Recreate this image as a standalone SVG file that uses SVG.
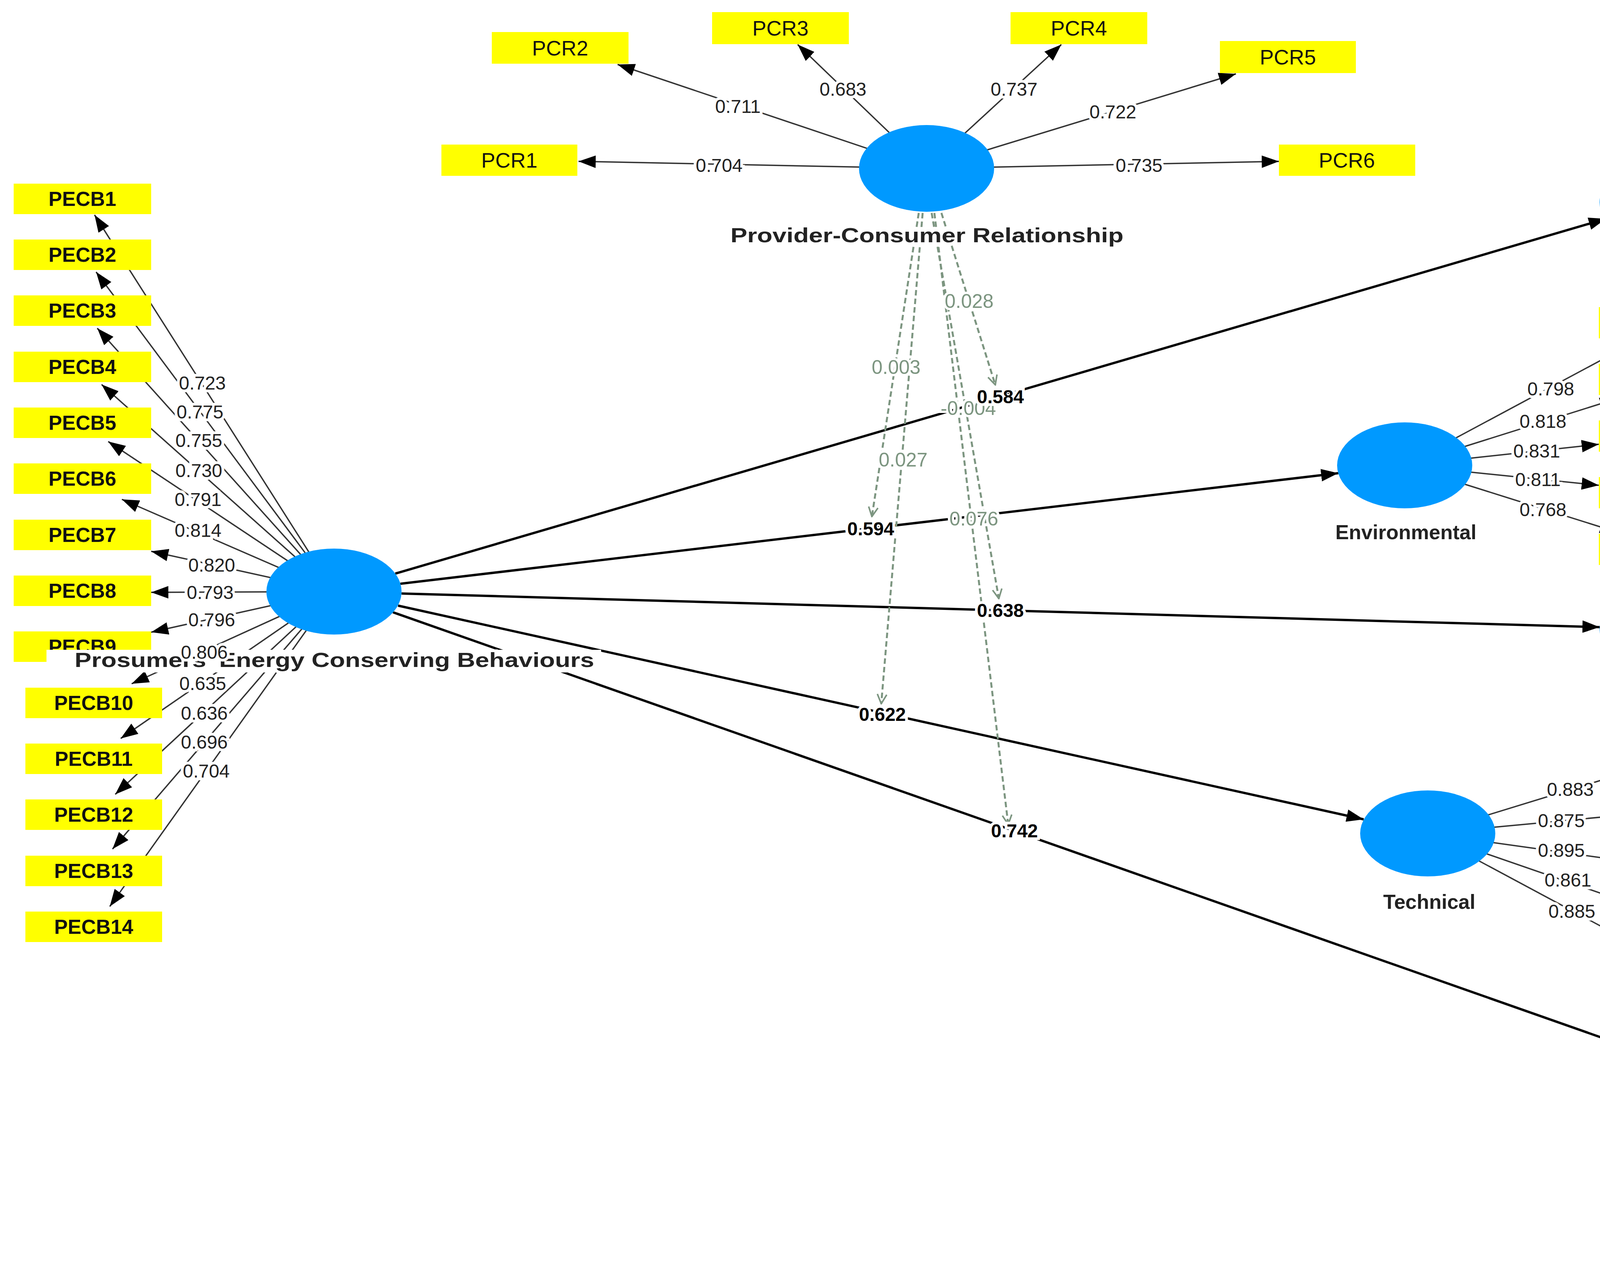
<svg xmlns="http://www.w3.org/2000/svg" width="5199" height="3235" viewBox="0 0 5199 3235">
<style>
.box{fill:#ffff00}
.lv{fill:#0099ff}
.bt{font-family:"Liberation Sans",Arial,sans-serif;font-weight:bold;font-size:52px;fill:#111;text-anchor:middle}
.pt{font-family:"Liberation Sans",Arial,sans-serif;font-size:54px;fill:#111;text-anchor:middle}
.nl{font-family:"Liberation Sans",Arial,sans-serif;font-weight:bold;font-size:52px;fill:#222;text-anchor:middle;paint-order:stroke;stroke:#fff;stroke-width:14px}
.ld{stroke:#333;stroke-width:3.5;fill:none}
.pa{stroke:#000;stroke-width:6;fill:none}
.md{stroke:#7c9580;stroke-width:5;stroke-dasharray:14 8;fill:none}
.lt{font-family:"Liberation Sans",Arial,sans-serif;font-size:48px;fill:#222;text-anchor:middle;dominant-baseline:central;paint-order:stroke;stroke:#fff;stroke-width:14px}
.pl{font-family:"Liberation Sans",Arial,sans-serif;font-weight:bold;font-size:48px;fill:#000;text-anchor:middle;dominant-baseline:central;paint-order:stroke;stroke:#fff;stroke-width:14px}
.ml{font-family:"Liberation Sans",Arial,sans-serif;font-size:50px;fill:#7c9580;text-anchor:middle;dominant-baseline:central;paint-order:stroke;stroke:#fff;stroke-width:12px}
</style>
<defs>
<marker id="a" markerUnits="userSpaceOnUse" markerWidth="44" markerHeight="32" refX="44" refY="16" orient="auto"><path d="M0,0 L44,16 L0,32 z" fill="#000"/></marker>
<marker id="o" markerUnits="userSpaceOnUse" markerWidth="30" markerHeight="30" refX="28" refY="15" orient="auto"><path d="M4,3 L28,15 L4,27" fill="none" stroke="#7c9580" stroke-width="4"/></marker>
</defs>
<rect width="5199" height="3235" fill="#fff"/>
<g id="connectors">
<!-- PECB loadings -->
<g class="ld" marker-end="url(#a)">
<line x1="855" y1="1514" x2="242" y2="550"/>
<line x1="855" y1="1514" x2="246" y2="696"/>
<line x1="855" y1="1514" x2="249" y2="840"/>
<line x1="855" y1="1514" x2="260" y2="984"/>
<line x1="855" y1="1514" x2="277" y2="1130"/>
<line x1="855" y1="1514" x2="312" y2="1278"/>
<line x1="855" y1="1514" x2="387" y2="1411"/>
<line x1="855" y1="1514" x2="387" y2="1516"/>
<line x1="855" y1="1514" x2="387" y2="1618"/>
<line x1="855" y1="1514" x2="337" y2="1750"/>
<line x1="855" y1="1514" x2="309" y2="1890"/>
<line x1="855" y1="1514" x2="295" y2="2033"/>
<line x1="855" y1="1514" x2="288" y2="2173"/>
<line x1="855" y1="1514" x2="281" y2="2320"/>
<!-- PCR -->
<line x1="2372" y1="431" x2="1481" y2="413"/>
<line x1="2372" y1="431" x2="1581" y2="165"/>
<line x1="2372" y1="431" x2="2042" y2="114"/>
<line x1="2372" y1="431" x2="2717" y2="114"/>
<line x1="2372" y1="431" x2="3164" y2="189"/>
<line x1="2372" y1="431" x2="3274" y2="413"/>
<!-- EC -->
<line x1="4268" y1="518" x2="4877" y2="131"/>
<line x1="4268" y1="518" x2="4823" y2="277"/>
<line x1="4268" y1="518" x2="4764" y2="412"/>
<line x1="4268" y1="518" x2="4764" y2="519"/>
<line x1="4268" y1="518" x2="4764" y2="625"/>
<line x1="4268" y1="518" x2="4844" y2="762"/>
<line x1="4268" y1="518" x2="4877" y2="906"/>
<!-- EN -->
<line x1="3596" y1="1191" x2="4190" y2="873"/>
<line x1="3596" y1="1191" x2="4140" y2="1020"/>
<line x1="3596" y1="1191" x2="4093" y2="1137"/>
<line x1="3596" y1="1191" x2="4093" y2="1242"/>
<line x1="3596" y1="1191" x2="4140" y2="1362"/>
<!-- G -->
<line x1="4268" y1="1610" x2="4848" y2="1298"/>
<line x1="4268" y1="1610" x2="4794" y2="1438"/>
<line x1="4268" y1="1610" x2="4764" y2="1555"/>
<line x1="4268" y1="1610" x2="4764" y2="1662"/>
<line x1="4268" y1="1610" x2="4811" y2="1781"/>
<line x1="4268" y1="1610" x2="4860" y2="1924"/>
<!-- TL -->
<line x1="3655" y1="2133" x2="4206" y2="1964"/>
<line x1="3655" y1="2133" x2="4156" y2="2086"/>
<line x1="3655" y1="2133" x2="4156" y2="2203"/>
<line x1="3655" y1="2133" x2="4190" y2="2318"/>
<line x1="3655" y1="2133" x2="4256" y2="2455"/>
<!-- SO -->
<line x1="4332" y1="2737" x2="4942" y2="2348"/>
<line x1="4332" y1="2737" x2="4899" y2="2494"/>
<line x1="4332" y1="2737" x2="4830" y2="2640"/>
<line x1="4332" y1="2737" x2="4830" y2="2740"/>
<line x1="4332" y1="2737" x2="4830" y2="2843"/>
<line x1="4332" y1="2737" x2="4909" y2="2985"/>
<line x1="4332" y1="2737" x2="4942" y2="3125"/>
</g>
<!-- structural paths -->
<g class="pa" marker-end="url(#a)">
<line x1="1012" y1="1468" x2="4111" y2="560"/>
<line x1="1025" y1="1494" x2="3426" y2="1211"/>
<line x1="1028" y1="1519" x2="4095" y2="1605"/>
<line x1="1019" y1="1550" x2="3491" y2="2097"/>
<line x1="1006" y1="1567" x2="4181" y2="2684"/>
</g>
<!-- moderating dashed -->
<g class="md" marker-end="url(#o)">
<line x1="2352" y1="545" x2="2232" y2="1322"/>
<line x1="2362" y1="545" x2="2256" y2="1801"/>
<line x1="2385" y1="545" x2="2557" y2="1532"/>
<line x1="2392" y1="545" x2="2581" y2="2110"/>
<line x1="2410" y1="545" x2="2548" y2="985"/>
</g>
<!-- labels -->
<g>
<text class="lt" x="518" y="980">0.723</text>
<text class="lt" x="512" y="1054">0.775</text>
<text class="lt" x="509" y="1127">0.755</text>
<text class="lt" x="509" y="1204">0.730</text>
<text class="lt" x="507" y="1278">0.791</text>
<text class="lt" x="507" y="1357">0.814</text>
<text class="lt" x="542" y="1446">0.820</text>
<text class="lt" x="538" y="1516">0.793</text>
<text class="lt" x="542" y="1586">0.796</text>
<text class="lt" x="519" y="1749">0.635</text>
<text class="lt" x="523" y="1825">0.636</text>
<text class="lt" x="523" y="1899">0.696</text>
<text class="lt" x="528" y="1973">0.704</text>
<text class="lt" x="1841" y="423">0.704</text>
<text class="lt" x="1889" y="272">0.711</text>
<text class="lt" x="2158" y="228">0.683</text>
<text class="lt" x="2596" y="228">0.737</text>
<text class="lt" x="2849" y="286">0.722</text>
<text class="lt" x="2916" y="423">0.735</text>
<text class="lt" x="4637" y="285">0.904</text>
<text class="lt" x="4632" y="363">0.845</text>
<text class="lt" x="4602" y="447">0.750</text>
<text class="lt" x="4606" y="519">0.901</text>
<text class="lt" x="4602" y="591">0.868</text>
<text class="lt" x="4632" y="673">0.858</text>
<text class="lt" x="4637" y="754">0.742</text>
<text class="lt" x="3970" y="995">0.798</text>
<text class="lt" x="3950" y="1078">0.818</text>
<text class="lt" x="3934" y="1154">0.831</text>
<text class="lt" x="3937" y="1227">0.811</text>
<text class="lt" x="3950" y="1304">0.768</text>
<text class="lt" x="4637" y="1415">0.795</text>
<text class="lt" x="4620" y="1499">0.821</text>
<text class="lt" x="4608" y="1575">0.848</text>
<text class="lt" x="4608" y="1647">0.774</text>
<text class="lt" x="4620" y="1725">0.811</text>
<text class="lt" x="4637" y="1808">0.850</text>
<text class="lt" x="4020" y="2020">0.883</text>
<text class="lt" x="3997" y="2100">0.875</text>
<text class="lt" x="3997" y="2176">0.895</text>
<text class="lt" x="4014" y="2252">0.861</text>
<text class="lt" x="4024" y="2332">0.885</text>
<text class="lt" x="4704" y="2501">0.798</text>
<text class="lt" x="4697" y="2584">0.830</text>
<text class="lt" x="4667" y="2667">0.650</text>
<text class="lt" x="4667" y="2740">0.825</text>
<text class="lt" x="4667" y="2810">0.814</text>
<text class="lt" x="4697" y="2896">0.828</text>
<text class="lt" x="4704" y="2972">0.825</text>
<text class="ml" x="2481" y="771">0.028</text>
<text class="ml" x="2294" y="940">0.003</text>
<text class="ml" x="2479" y="1045">-0.004</text>
<text class="ml" x="2312" y="1177">0.027</text>
<text class="ml" x="2493" y="1328">0.076</text>
<text class="pl" x="2561" y="1015">0.584</text>
<text class="pl" x="2229" y="1353">0.594</text>
<text class="pl" x="2561" y="1562">0.638</text>
<text class="pl" x="2259" y="1828">0.622</text>
<text class="pl" x="2597" y="2126">0.742</text>
</g>
</g>
<!-- indicator nodes -->
<g id="PECB1"><rect class="box" x="35" y="470" width="352" height="78"/><text class="bt" x="211" y="527">PECB1</text></g>
<g id="PECB2"><rect class="box" x="35" y="613" width="352" height="78"/><text class="bt" x="211" y="670">PECB2</text></g>
<g id="PECB3"><rect class="box" x="35" y="756" width="352" height="78"/><text class="bt" x="211" y="813">PECB3</text></g>
<g id="PECB4"><rect class="box" x="35" y="900" width="352" height="78"/><text class="bt" x="211" y="957">PECB4</text></g>
<g id="PECB5"><rect class="box" x="35" y="1043" width="352" height="78"/><text class="bt" x="211" y="1100">PECB5</text></g>
<g id="PECB6"><rect class="box" x="35" y="1186" width="352" height="78"/><text class="bt" x="211" y="1243">PECB6</text></g>
<g id="PECB7"><rect class="box" x="35" y="1330" width="352" height="78"/><text class="bt" x="211" y="1387">PECB7</text></g>
<g id="PECB8"><rect class="box" x="35" y="1473" width="352" height="78"/><text class="bt" x="211" y="1530">PECB8</text></g>
<g id="PECB9"><rect class="box" x="35" y="1616" width="352" height="78"/><text class="bt" x="211" y="1673">PECB9</text></g>
<g id="PECB10"><rect class="box" x="65" y="1760" width="350" height="78"/><text class="bt" x="240" y="1817">PECB10</text></g>
<g id="PECB11"><rect class="box" x="65" y="1903" width="350" height="78"/><text class="bt" x="240" y="1960">PECB11</text></g>
<g id="PECB12"><rect class="box" x="65" y="2046" width="350" height="78"/><text class="bt" x="240" y="2103">PECB12</text></g>
<g id="PECB13"><rect class="box" x="65" y="2190" width="350" height="78"/><text class="bt" x="240" y="2247">PECB13</text></g>
<g id="PECB14"><rect class="box" x="65" y="2333" width="350" height="78"/><text class="bt" x="240" y="2390">PECB14</text></g>
<g id="PCR1"><rect class="box" x="1130" y="370" width="348" height="80"/><text class="pt" x="1304" y="429">PCR1</text></g>
<g id="PCR2"><rect class="box" x="1259" y="82" width="350" height="81"/><text class="pt" x="1434" y="142">PCR2</text></g>
<g id="PCR3"><rect class="box" x="1823" y="31" width="350" height="82"/><text class="pt" x="1998" y="91">PCR3</text></g>
<g id="PCR4"><rect class="box" x="2587" y="31" width="350" height="82"/><text class="pt" x="2762" y="91">PCR4</text></g>
<g id="PCR5"><rect class="box" x="3123" y="105" width="348" height="82"/><text class="pt" x="3297" y="165">PCR5</text></g>
<g id="PCR6"><rect class="box" x="3274" y="370" width="349" height="80"/><text class="pt" x="3448" y="429">PCR6</text></g>
<g id="EC1"><rect class="box" x="4765" y="47" width="350" height="81"/><text class="bt" x="4940" y="106">EC1</text></g>
<g id="EC2"><rect class="box" x="4765" y="191" width="350" height="81"/><text class="bt" x="4940" y="250">EC2</text></g>
<g id="EC3"><rect class="box" x="4765" y="335" width="350" height="81"/><text class="bt" x="4940" y="394">EC3</text></g>
<g id="EC4"><rect class="box" x="4765" y="478" width="350" height="81"/><text class="bt" x="4940" y="537">EC4</text></g>
<g id="EC5"><rect class="box" x="4765" y="622" width="350" height="81"/><text class="bt" x="4940" y="681">EC5</text></g>
<g id="EC6"><rect class="box" x="4765" y="766" width="350" height="81"/><text class="bt" x="4940" y="825">EC6</text></g>
<g id="EC7"><rect class="box" x="4765" y="909" width="350" height="81"/><text class="bt" x="4940" y="968">EC7</text></g>
<g id="EN1"><rect class="box" x="4093" y="786" width="349" height="80"/><text class="bt" x="4267" y="844">EN1</text></g>
<g id="EN2"><rect class="box" x="4093" y="931" width="349" height="80"/><text class="bt" x="4267" y="989">EN2</text></g>
<g id="EN3"><rect class="box" x="4093" y="1076" width="349" height="80"/><text class="bt" x="4267" y="1134">EN3</text></g>
<g id="EN4"><rect class="box" x="4093" y="1221" width="349" height="80"/><text class="bt" x="4267" y="1279">EN4</text></g>
<g id="EN5"><rect class="box" x="4093" y="1366" width="349" height="80"/><text class="bt" x="4267" y="1424">EN5</text></g>
<g id="G1"><rect class="box" x="4765" y="1210" width="350" height="80"/><text class="bt" x="4940" y="1268">G1</text></g>
<g id="G2"><rect class="box" x="4765" y="1354" width="350" height="80"/><text class="bt" x="4940" y="1412">G2</text></g>
<g id="G3"><rect class="box" x="4765" y="1498" width="350" height="80"/><text class="bt" x="4940" y="1556">G3</text></g>
<g id="G4"><rect class="box" x="4765" y="1642" width="350" height="80"/><text class="bt" x="4940" y="1700">G4</text></g>
<g id="G5"><rect class="box" x="4765" y="1786" width="350" height="80"/><text class="bt" x="4940" y="1844">G5</text></g>
<g id="G6"><rect class="box" x="4765" y="1930" width="350" height="80"/><text class="bt" x="4940" y="1988">G6</text></g>
<g id="TL2"><rect class="box" x="4156" y="1879" width="350" height="80"/><text class="bt" x="4331" y="1937">TL2</text></g>
<g id="TL3"><rect class="box" x="4156" y="2022" width="350" height="80"/><text class="bt" x="4331" y="2080">TL3</text></g>
<g id="TL4"><rect class="box" x="4156" y="2165" width="350" height="80"/><text class="bt" x="4331" y="2223">TL4</text></g>
<g id="TL5"><rect class="box" x="4156" y="2309" width="350" height="80"/><text class="bt" x="4331" y="2367">TL5</text></g>
<g id="TL6"><rect class="box" x="4156" y="2452" width="350" height="80"/><text class="bt" x="4331" y="2510">TL6</text></g>
<g id="SO1"><rect class="box" x="4830" y="2265" width="349" height="80"/><text class="bt" x="5004" y="2323">SO1</text></g>
<g id="SO2"><rect class="box" x="4830" y="2409" width="349" height="80"/><text class="bt" x="5004" y="2467">SO2</text></g>
<g id="SO3"><rect class="box" x="4830" y="2553" width="349" height="80"/><text class="bt" x="5004" y="2611">SO3</text></g>
<g id="SO4"><rect class="box" x="4830" y="2697" width="349" height="80"/><text class="bt" x="5004" y="2755">SO4</text></g>
<g id="SO5"><rect class="box" x="4830" y="2840" width="349" height="80"/><text class="bt" x="5004" y="2898">SO5</text></g>
<g id="SO6"><rect class="box" x="4830" y="2984" width="349" height="80"/><text class="bt" x="5004" y="3042">SO6</text></g>
<g id="SO7"><rect class="box" x="4830" y="3128" width="349" height="80"/><text class="bt" x="5004" y="3186">SO7</text></g>
<!-- latent nodes -->
<g id="PECB"><ellipse class="lv" cx="855" cy="1514" rx="173" ry="110"/><rect x="119" y="1663" width="1420" height="58" fill="#fff"/><text class="nl" x="856" y="1707" textLength="1330" lengthAdjust="spacingAndGlyphs">Prosumers' Energy Conserving Behaviours</text></g>
<g id="PCR"><ellipse class="lv" cx="2372" cy="431" rx="173" ry="111"/><text class="nl" x="2373" y="620" textLength="1006" lengthAdjust="spacingAndGlyphs">Provider-Consumer Relationship</text></g>
<g id="Economic"><ellipse class="lv" cx="4268" cy="518" rx="173" ry="110"/><text class="nl" x="4268" y="706">Economic</text></g>
<g id="Environmental"><ellipse class="lv" cx="3596" cy="1191" rx="173" ry="110"/><text class="nl" x="3599" y="1380">Environmental</text></g>
<g id="Governance"><ellipse class="lv" cx="4268" cy="1610" rx="173" ry="110"/><text class="nl" x="4267" y="1800">Governance</text></g>
<g id="Technical"><ellipse class="lv" cx="3655" cy="2133" rx="173" ry="110"/><text class="nl" x="3659" y="2326">Technical</text></g>
<g id="Social"><ellipse class="lv" cx="4332" cy="2737" rx="173" ry="110"/><text class="nl" x="4332" y="2926">Social</text></g>
<text class="lt" x="523" y="1669">0.806</text>
</svg>
